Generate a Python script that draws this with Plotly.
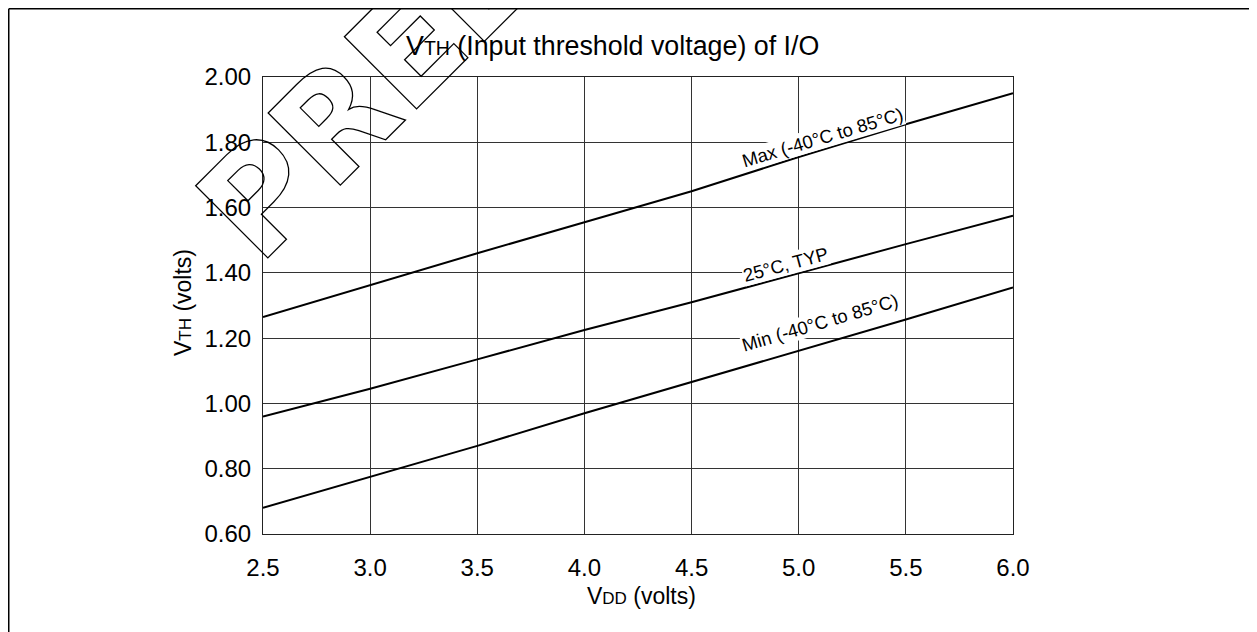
import plotly.graph_objects as go

# ---- data ----
vdd = [2.5, 3.0, 3.5, 4.0, 4.5, 5.0, 5.5, 6.0]
vth_max = [1.265, 1.363, 1.46, 1.555, 1.65, 1.755, 1.855, 1.95]
vth_typ = [0.96, 1.045, 1.135, 1.225, 1.31, 1.40, 1.488, 1.575]
vth_min = [0.68, 0.775, 0.87, 0.97, 1.065, 1.16, 1.257, 1.355]

x_ticks = [2.5, 3.0, 3.5, 4.0, 4.5, 5.0, 5.5, 6.0]
y_ticks = [0.60, 0.80, 1.00, 1.20, 1.40, 1.60, 1.80, 2.00]

label_max = "Max (-40°C to 85°C)"
label_typ = "25°C, TYP"
label_min = "Min (-40°C to 85°C)"

FONT = "Liberation Sans, Arial, Helvetica, sans-serif"

fig = go.Figure()
for ys in (vth_max, vth_typ, vth_min):
    fig.add_trace(go.Scatter(x=vdd, y=ys, mode="lines",
                             line=dict(color="black", width=2),
                             showlegend=False, hoverinfo="skip"))

# page has an 8px body margin
OFF = 8
W, H = 1249, 624
ML, MT = 255, 69
PW, PH = 750, 457
MR, MB = W - ML - PW, H - MT - PH


def px(x):
    """page pixel x -> paper fraction"""
    return (x - OFF - ML) / PW


def py(y):
    """page pixel y -> paper fraction"""
    return (OFF + MT + PH - y) / PH


annotations = []
# curve labels
for txt, xv, yv, ang in [(label_max, 5.109, 1.816, -16.6),
                         (label_typ, 4.938, 1.426, -15.0),
                         (label_min, 5.101, 1.249, -16.4)]:
    annotations.append(dict(x=xv, y=yv, xref="x", yref="y", text=txt,
                            showarrow=False, textangle=ang,
                            xanchor="center", yanchor="middle",
                            font=dict(family=FONT, size=18.5, color="black"),
                            bgcolor="white", borderpad=0))

# chart title
annotations.append(dict(
    x=px(612), y=py(46), xref="paper", yref="paper",
    xanchor="center", yanchor="middle",
    text="V<span style='font-size:19.5px'>TH</span> (Input threshold voltage) of I/O",
    showarrow=False, font=dict(family=FONT, size=26.8, color="black")))
# axis titles
annotations.append(dict(
    x=px(641), y=py(596), xref="paper", yref="paper",
    xanchor="center", yanchor="middle",
    text="V<span style='font-size:17px'>DD</span> (volts)",
    showarrow=False, font=dict(family=FONT, size=23, color="black")))
annotations.append(dict(
    x=px(183), y=py(303), xref="paper", yref="paper", textangle=-90,
    xanchor="center", yanchor="middle",
    text="V<span style='font-size:17px'>TH</span> (volts)",
    showarrow=False, font=dict(family=FONT, size=23, color="black")))
# watermark
annotations.append(dict(
    x=px(601.4), y=py(-144.8), xref="paper", yref="paper", textangle=-45,
    xanchor="center", yanchor="middle",
    text="<span style='fill:none;stroke:#000;stroke-width:1.3px'>PRELIMINARY</span>",
    showarrow=False,
    font=dict(family="DejaVu Sans, sans-serif", size=140, color="black", weight="bold")))

shapes = [
    dict(type="line", xref="paper", yref="paper",
         x0=px(8.75), x1=px(1270), y0=py(8.75), y1=py(8.75),
         line=dict(color="black", width=1.5)),
    dict(type="line", xref="paper", yref="paper",
         x0=px(8.75), x1=px(8.75), y0=py(8.75), y1=py(650),
         line=dict(color="black", width=1.5)),
]

axis_common = dict(showgrid=True, gridcolor="#333", gridwidth=1,
                   showline=True, linecolor="#222", linewidth=1, mirror=True,
                   zeroline=False, ticks="",
                   tickfont=dict(family=FONT, size=24, color="black"))

fig.update_layout(
    width=W, height=H,
    margin=dict(l=ML, r=MR, t=MT, b=MB),
    paper_bgcolor="white", plot_bgcolor="white",
    xaxis=dict(range=[2.5, 6.0], tickvals=x_ticks, tickformat=".1f",
               ticklabelstandoff=12, **axis_common),
    yaxis=dict(range=[0.6, 2.0], tickvals=y_ticks, tickformat=".2f",
               ticklabelstandoff=6, **axis_common),
    annotations=annotations,
    shapes=shapes,
)

fig.write_html("out.html")
